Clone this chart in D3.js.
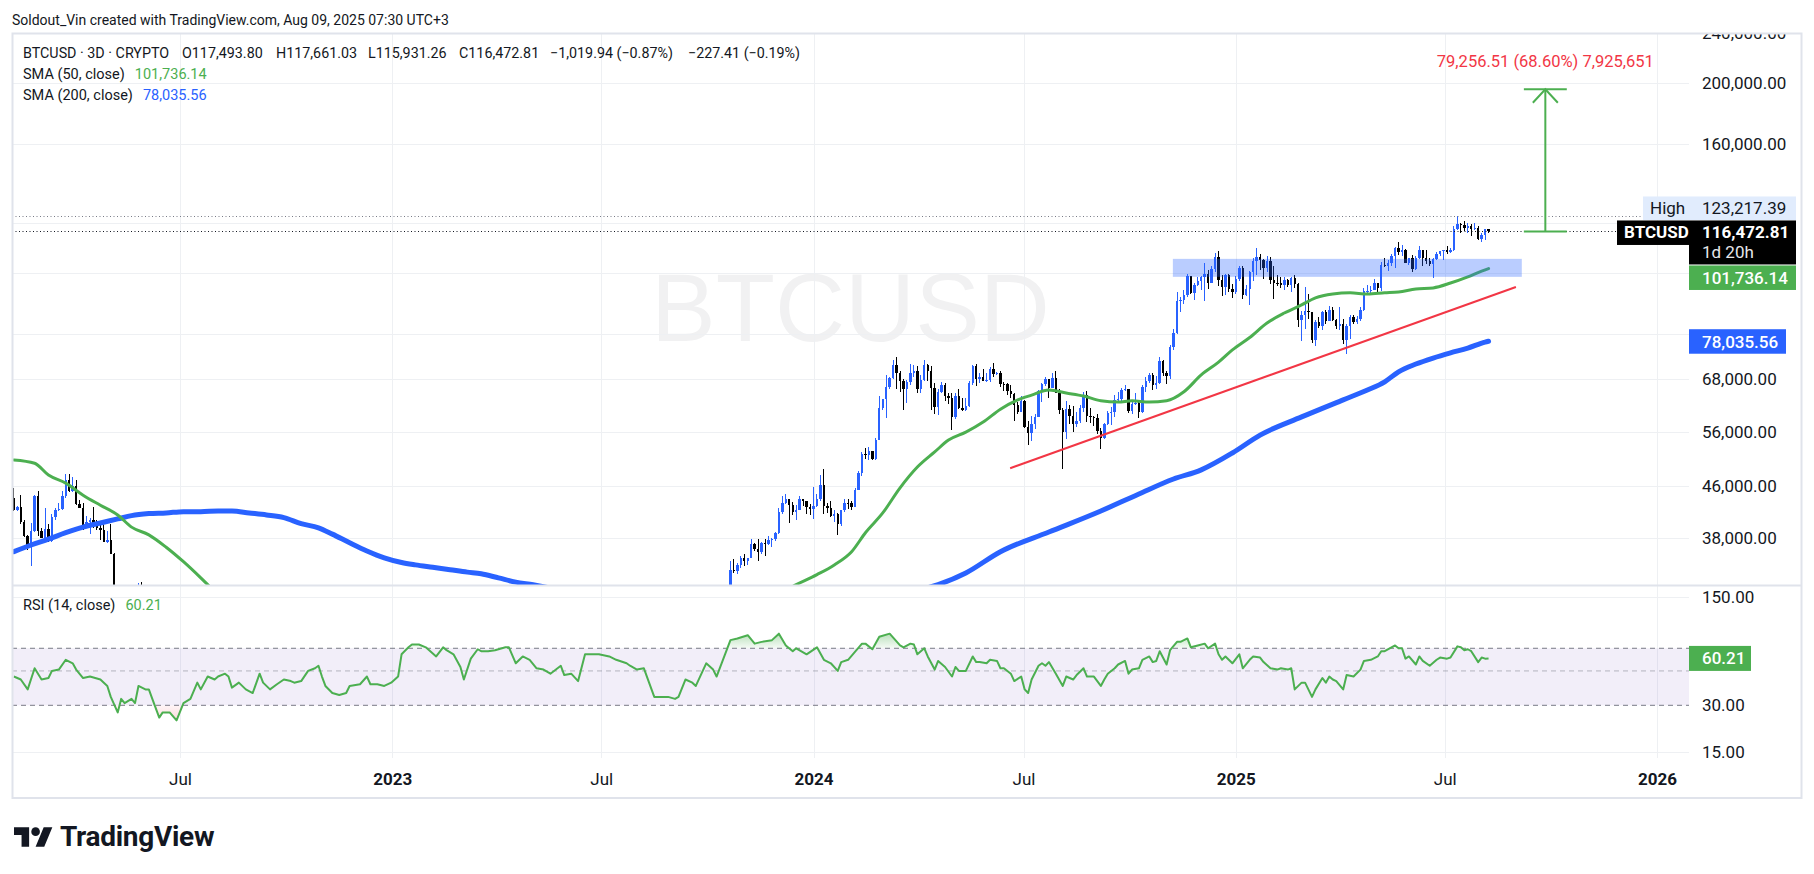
<!DOCTYPE html>
<html>
<head>
<meta charset="utf-8">
<title>BTCUSD 3D</title>
<script src="https://cdn.jsdelivr.net/npm/d3@7"></script>
<style>
  body { margin: 0; background: #ffffff; }
  text { font-family: Roboto, "Noto Sans", sans-serif; }
</style>
</head>
<body>
<div id="chart"></div>
<script>
// one candle every 3 days, bar 0 opens 2022-02-07. prices are in thousands of USD
var firstBar = Date.UTC(2022, 1, 7);
var DAY = 864e5;

// bars 0..41 (Feb - Jun 2022). crypto trades 24/7 so each open is the previous close
var earlyOpen = 44.0;
var earlyHigh = [45.6, 42.8, 44.5, 40.6, 38.5, 40.2, 44.5, 45.2, 39.5, 42.4,
                 40.1, 41.5, 42.4, 43.2, 45.1, 48.1, 48.0, 47.5, 47.0, 43.7,
                 43.2, 41.3, 40.9, 42.6, 40.6, 40.1, 40.0, 39.1, 40.0, 36.0,
                 31.3, 30.7, 30.8, 30.7, 30.2, 29.9, 32.3, 32.4, 31.7, 31.5, 30.1, 23.0];
var earlyLow = [42.0, 42.0, 40.0, 38.2, 36.4, 34.3, 38.9, 38.3, 38.0, 38.0,
                37.5, 37.5, 40.6, 42.0, 42.2, 44.1, 45.0, 45.0, 43.0, 42.4,
                39.2, 39.7, 38.6, 39.5, 39.2, 37.8, 37.5, 37.4, 35.9, 29.5,
                26.7, 28.7, 28.7, 28.9, 28.0, 28.3, 29.3, 29.3, 29.2, 29.9, 22.3, 20.1];
var earlyClose = [42.2, 42.6, 40.4, 38.3, 37.0, 39.0, 44.3, 39.0, 38.1, 39.3,
                  37.6, 41.1, 42.2, 42.3, 44.3, 47.0, 45.2, 46.0, 43.1, 42.5,
                  39.8, 40.4, 40.6, 40.1, 39.5, 39.2, 37.5, 37.8, 35.9, 30.0,
                  29.3, 30.4, 29.2, 29.5, 29.1, 29.4, 31.7, 29.8, 31.4, 30.1, 22.5, 20.4];

// bars 207 (2023-10-21) .. 426 (2025-08-08, live bar)
var mainStart = 207;
var mainOpen = 29.9;
var mainHigh = [
  35.0, 35.2, 34.7, 35.6, 35.9, 35.4, 37.9, 37.4, 37.9, 37.5,
  37.9, 38.4, 38.0, 38.9, 42.4, 44.4, 44.7, 43.8, 43.4, 43.0,
  44.4, 43.9, 43.6, 43.1, 45.9, 44.7, 47.9, 49.0, 43.3, 43.6,
  42.2, 41.7, 42.2, 43.9, 43.8, 43.5, 45.6, 48.6, 52.0, 52.8,
  53.0, 52.3, 54.9, 64.0, 63.2, 69.0, 68.6, 72.9, 73.8, 70.0,
  68.1, 67.7, 71.7, 71.5, 71.4, 68.9, 72.8, 71.8, 71.3, 66.9,
  65.5, 67.2, 67.1, 64.7, 64.7, 64.5, 65.5, 63.5, 63.5, 67.5,
  71.5, 71.9, 69.5, 70.6, 69.5, 71.0, 72.0, 69.8, 70.0, 67.2,
  67.0, 66.5, 64.5, 62.4, 63.8, 63.0, 58.4, 59.5, 59.8, 65.4,
  67.0, 68.5, 68.0, 69.4, 70.0, 65.6, 61.1, 62.7, 61.8, 61.6,
  60.3, 61.8, 64.9, 65.0, 61.2, 59.4, 59.8, 56.9, 58.0, 60.6,
  61.3, 64.1, 64.8, 65.8, 66.5, 65.6, 62.4, 64.5, 63.0, 66.5,
  68.4, 69.4, 69.5, 68.8, 73.6, 72.9, 69.9, 77.0, 81.5, 93.4,
  91.8, 94.0, 99.6, 98.9, 96.6, 98.7, 98.9, 104.0, 101.2, 102.5,
  107.8, 108.3, 99.5, 99.9, 99.9, 96.3, 98.9, 102.5, 102.7, 95.8,
  100.7, 105.9, 109.6, 107.2, 105.3, 106.5, 106.0, 102.5, 99.2, 98.5,
  98.8, 97.9, 98.8, 99.5, 96.5, 87.0, 95.0, 92.8, 86.9, 84.4,
  85.3, 87.0, 87.4, 88.8, 88.3, 84.6, 88.5, 84.7, 83.0, 85.9,
  86.0, 85.5, 88.5, 94.7, 95.8, 95.6, 97.9, 96.6, 104.1, 105.8,
  105.0, 107.1, 110.0, 112.0, 110.7, 109.3, 105.9, 106.8, 106.5, 110.5,
  108.8, 108.9, 105.6, 105.6, 108.0, 108.5, 109.0, 110.6, 109.7, 118.9,
  123.2, 120.0, 120.9, 120.2, 119.5, 120.0, 119.0, 115.7, 117.6, 117.661];
var mainLow = [
  29.7, 33.5, 33.4, 34.1, 34.3, 34.5, 35.4, 36.3, 35.0, 35.9,
  35.7, 37.1, 36.8, 37.6, 38.6, 41.5, 43.1, 40.2, 41.4, 40.6,
  42.2, 42.8, 41.6, 41.4, 40.8, 42.6, 43.6, 41.5, 41.7, 41.1,
  40.3, 38.5, 39.8, 41.8, 42.3, 42.2, 42.6, 45.3, 47.7, 50.7,
  50.6, 50.6, 50.5, 54.4, 60.8, 59.0, 65.6, 68.1, 65.6, 64.8,
  60.8, 62.3, 66.6, 68.5, 64.5, 64.5, 67.4, 67.5, 60.8, 59.8,
  59.6, 64.5, 62.8, 62.0, 56.5, 58.8, 61.0, 60.6, 60.6, 61.3,
  66.6, 66.3, 67.0, 67.5, 67.2, 67.3, 68.5, 68.9, 66.1, 65.1,
  64.1, 63.4, 58.4, 59.9, 60.2, 56.8, 53.5, 54.3, 56.6, 59.2,
  62.4, 66.2, 63.5, 65.7, 64.5, 59.8, 49.0, 54.7, 57.6, 56.1,
  57.1, 57.8, 60.3, 58.1, 57.9, 57.2, 55.6, 52.6, 54.6, 57.5,
  57.5, 59.2, 62.4, 62.7, 65.0, 60.1, 59.9, 61.9, 58.9, 60.1,
  64.8, 67.1, 65.3, 65.5, 66.8, 68.8, 66.8, 68.0, 75.7, 80.2,
  86.7, 89.3, 91.8, 92.6, 90.8, 95.4, 94.2, 90.5, 94.3, 96.6,
  100.6, 95.6, 92.2, 92.4, 93.4, 91.3, 92.8, 97.3, 91.2, 92.2,
  89.2, 97.3, 99.5, 101.2, 97.8, 100.3, 96.0, 91.2, 95.6, 94.7,
  94.1, 95.2, 93.4, 94.9, 82.3, 78.2, 81.5, 84.7, 77.5, 76.6,
  82.0, 81.2, 83.2, 83.9, 83.9, 81.6, 81.3, 77.2, 74.4, 78.6,
  83.0, 83.1, 84.0, 87.0, 92.9, 92.9, 94.0, 93.4, 93.7, 102.3,
  101.0, 102.6, 102.1, 106.8, 106.6, 103.7, 103.1, 100.4, 101.1, 105.3,
  102.7, 103.4, 102.8, 98.2, 105.0, 106.6, 105.1, 107.2, 107.5, 108.4,
  117.0, 115.7, 116.5, 116.0, 114.7, 117.2, 112.7, 111.9, 112.7, 115.931];
var mainClose = [
  33.9, 33.8, 34.5, 35.4, 35.0, 35.4, 37.3, 36.5, 36.2, 37.4,
  37.3, 37.8, 37.9, 38.7, 41.9, 43.3, 43.8, 42.9, 41.9, 42.2,
  43.9, 43.6, 42.6, 42.3, 42.8, 43.9, 46.1, 42.8, 42.5, 41.3,
  41.6, 40.1, 42.1, 43.3, 43.2, 42.6, 45.3, 48.3, 51.8, 51.6,
  52.3, 50.7, 54.5, 61.2, 63.1, 66.1, 68.3, 71.5, 69.4, 67.6,
  65.5, 67.2, 69.5, 69.9, 65.5, 67.8, 71.6, 70.0, 65.7, 61.3,
  64.9, 66.4, 63.8, 63.4, 59.1, 64.0, 61.2, 60.8, 61.6, 67.0,
  71.4, 67.9, 68.5, 67.6, 67.8, 70.6, 69.3, 69.6, 66.8, 66.7,
  65.0, 64.3, 61.8, 60.3, 62.7, 57.0, 55.9, 57.7, 59.2, 65.0,
  66.7, 68.0, 65.8, 68.3, 64.6, 60.7, 56.0, 60.9, 59.4, 57.6,
  58.4, 61.2, 64.2, 59.4, 59.1, 59.0, 56.2, 54.8, 57.6, 60.0,
  60.3, 62.9, 63.3, 65.2, 65.6, 60.6, 62.1, 62.2, 60.3, 66.0,
  67.4, 69.0, 66.6, 67.0, 72.7, 69.5, 68.8, 76.5, 80.4, 90.4,
  90.6, 92.3, 98.9, 93.0, 95.7, 97.3, 98.8, 99.9, 96.6, 101.4,
  106.1, 97.5, 95.1, 99.4, 94.3, 93.4, 98.1, 102.1, 92.5, 94.5,
  100.5, 104.4, 106.1, 104.8, 102.1, 104.7, 97.7, 96.6, 96.5, 95.8,
  97.5, 95.7, 98.3, 96.1, 84.3, 86.0, 87.2, 86.7, 78.5, 83.7,
  82.6, 86.9, 84.0, 87.5, 84.4, 82.5, 83.1, 78.4, 82.6, 85.3,
  83.7, 84.5, 87.5, 93.7, 93.8, 94.2, 96.5, 94.8, 103.0, 102.8,
  103.7, 106.4, 109.7, 107.9, 108.9, 104.0, 105.8, 101.6, 105.7, 108.7,
  105.6, 104.6, 103.3, 105.4, 107.1, 108.4, 108.9, 108.2, 108.9, 117.5,
  119.8, 119.3, 117.9, 118.7, 117.6, 117.9, 113.3, 115.0, 117.4938, 116.47281];

// moving averages: [bar, value]
var sma50 = [[0,50.6],[6,50.0],[10,47.9],[15,46.5],[20,44.5],[25,42.9],[30,41.4],[34,39.6],
  [39,38.5],[44,36.8],[49,34.9],[54,32.9],[56,32.1],[60,30.5],[75,24.5],[95,20.5],[115,19.0],
  [130,20.5],[145,24.5],[160,27.5],[175,28.8],[190,28.5],[205,28.5],[215,29.8],[226,32.1],
  [232,33.3],[237,34.5],[242,36.2],[246,38.8],[251,41.7],[256,45.7],[261,49.3],[266,52.1],
  [270,54.4],[275,56.0],[280,58.1],[285,60.9],[290,63.0],[294,64.1],[299,65.3],[304,64.6],
  [309,63.9],[314,62.8],[319,62.5],[323,62.8],[328,62.5],[333,62.8],[338,64.9],[343,69.0],
  [348,72.3],[352,75.6],[357,79.1],[362,83.4],[367,86.5],[372,89.1],[376,91.4],[381,92.7],
  [386,93.1],[391,92.7],[396,93.1],[400,93.4],[405,94.4],[410,94.8],[415,96.5],[420,98.7],
  [424,100.8],[426,101.73614]];
var sma200 = [[0,36.2],[5,37.1],[10,37.9],[15,38.8],[20,39.6],[25,40.2],[30,40.8],[34,41.3],
  [39,41.6],[44,41.7],[49,41.9],[54,41.9],[59,42.0],[63,42.0],[68,41.7],[73,41.4],[78,41.0],
  [83,40.1],[88,39.5],[92,38.6],[97,37.4],[102,36.3],[107,35.4],[112,34.8],[116,34.5],
  [121,34.2],[126,33.9],[131,33.6],[135,33.4],[140,32.9],[145,32.4],[150,32.1],[165,30.8],
  [185,29.6],[205,29.0],[230,29.6],[255,31.0],[267,32.1],[275,33.5],[285,36.2],[299,38.9],
  [314,42.0],[325,44.7],[335,47.2],[343,48.8],[352,51.9],[360,55.4],[372,59.2],[384,63.0],
  [391,65.3],[396,67.3],[400,69.8],[405,71.8],[410,73.4],[415,74.8],[420,76.1],[425,77.8],
  [426,78.03556]];

// RSI(14): [bar, value]
var rsi = [[0,46],[2,44],[4,38],[6,52],[8,44],[10,45],[11,50],[13,51],[15,59],[17,56],[18,51],
  [20,45],[22,46],[25,44],[27,40],[28,34],[30,27],[31,33],[32,31],[34,33],[35,31],[36,40],
  [38,38],[39,38],[40,33],[42,25],[43,27],[45,27],[47,24],[49,31],[51,33],[53,42],[54,38],
  [56,46],[58,44],[59,46],[61,48],[62,46],[63,39],[65,42],[67,38],[69,36],[71,48],[72,42],
  [74,38],[76,41],[78,44],[80,43],[81,42],[83,43],[85,50],[87,52],[88,54],[89,46],[90,40],
  [92,36],[94,35],[96,36],[97,40],[100,41],[102,46],[103,41],[105,41],[107,40],[109,42],
  [111,46],[112,64],[114,71],[115,74],[117,74],[119,71],[122,62],[124,71],[125,68],[127,64],
  [129,53],[130,44],[132,60],[134,69],[135,67],[137,67],[139,68],[142,71],[143,71],[145,56],
  [147,62],[149,59],[151,52],[153,51],[155,48],[158,54],[159,47],[161,48],[163,43],[165,64],
  [167,64],[169,64],[172,62],[174,59],[177,56],[178,54],[180,51],[182,52],[185,34],[187,34],
  [189,34],[191,33],[192,34],[194,44],[196,42],[197,40],[200,56],[202,51],[203,46],[207,79],
  [209,81],[212,85],[214,75],[216,77],[219,79],[221,87],[223,73],[225,67],[226,70],[229,64],
  [232,71],[234,59],[236,56],[238,50],[239,57],[241,59],[245,75],[246,75],[248,69],[250,83],
  [253,87],[256,73],[257,71],[259,75],[260,74],[261,64],[263,70],[264,62],[266,51],[267,58],
  [269,53],[271,46],[272,53],[273,50],[275,50],[277,62],[278,57],[279,57],[281,56],[282,59],
  [284,58],[285,52],[286,52],[288,48],[289,43],[291,46],[292,38],[293,36],[294,44],[296,54],
  [297,56],[298,54],[299,57],[301,48],[303,40],[304,46],[306,44],[307,47],[309,52],[310,46],
  [312,46],[314,40],[315,44],[316,48],[318,52],[319,55],[321,58],[322,48],[323,51],[325,52],
  [326,59],[328,62],[329,57],[330,58],[331,67],[333,55],[334,68],[336,77],[337,77],[339,81],
  [340,71],[342,73],[344,75],[345,70],[347,75],[348,64],[349,59],[350,62],[352,56],[354,64],
  [355,52],[357,59],[358,62],[360,61],[361,57],[363,52],[365,51],[366,52],[368,51],[369,52],
  [370,38],[372,42],[373,42],[375,34],[376,38],[378,45],[379,42],[380,46],[381,44],[382,43],
  [384,38],[385,47],[387,46],[389,51],[390,58],[392,59],[394,62],[395,67],[396,67],[399,73],
  [400,70],[401,70],[402,60],[403,62],[405,55],[406,62],[407,58],[409,54],[411,59],[412,61],
  [414,60],[415,61],[417,72],[418,71],[419,68],[420,69],[421,67],[423,57],[424,61],[425,60],
  [426,60.21]];

// drawings
var zoneBars = [334.8, 435.6], zonePrices = [98.7, 105.4];
var trendBars = [287.8, 433.9], trendPrices = [49.1, 95.1];
var arrowBar = 442.4, arrowCaps = [436.2, 448.6], arrowPrices = [116.47281, 195.72932];
var highPrice = 123.21739, lastPrice = 116.47281;

var priceTicks = [240, 200, 160, 120, 100, 80, 68, 56, 46, 38];
var rsiTicks = [150, 70, 30, 15];
var timeTicks = ["2022-07-01", "2023-01-01", "2023-07-01", "2024-01-01",
                 "2024-07-01", "2025-01-01", "2025-07-01", "2026-01-01"];

var W = 1814, H = 874;
var L = 12, R = 1689, PT = 33, PB = 585, RT = 587, RB = 758;
var UP = "#2962ff", DOWN = "#000000", GREEN = "#4caf50", RED = "#f23645", INK = "#131722";

var svg = d3.select("#chart").append("svg").attr("width", W).attr("height", H);
var defs = svg.append("defs");
defs.append("clipPath").attr("id", "cp").append("rect").attr("x", L).attr("y", PT).attr("width", R - L).attr("height", PB - PT);
defs.append("clipPath").attr("id", "cr").append("rect").attr("x", L).attr("y", RT).attr("width", R - L).attr("height", RB - RT);
defs.append("clipPath").attr("id", "cax").append("rect").attr("x", 0).attr("y", PT + 1).attr("width", 120).attr("height", PB - PT - 1);

var x = d3.scaleUtc()
  .domain([new Date(Date.UTC(2022, 6, 1) - 145.6 * DAY), new Date(Date.UTC(2026, 0, 1) + 27.7 * DAY)])
  .range([L, R]);
function bx(i) { return x(new Date(firstBar + i * 3 * DAY)); }
var y = d3.scaleLog().domain([32.06, 240.3]).range([PB, PT]);
var ry = d3.scaleLog().domain([13.71, 174.0]).range([RB, RT]);

function buildBars(start, open0, highs, lows, closes) {
  var out = [], prev = open0;
  closes.forEach(function(c, i) {
    out.push({bar: start + i, o: prev, h: highs[i], l: lows[i], c: c});
    prev = c;
  });
  return out;
}
var bars = buildBars(0, earlyOpen, earlyHigh, earlyLow, earlyClose)
  .concat(buildBars(mainStart, mainOpen, mainHigh, mainLow, mainClose));

// watermark
svg.append("text").attr("x", (L + R) / 2).attr("y", 341).attr("text-anchor", "middle")
  .style("font-family", "'Liberation Sans', Arial, sans-serif").style("font-size", "97px")
  .attr("fill", "rgba(19,23,34,0.06)").text("BTCUSD");

// grid
var grid = svg.append("g").attr("stroke", "#eef0f3").attr("stroke-width", 1);
priceTicks.forEach(function(t) {
  grid.append("line").attr("x1", L).attr("x2", R).attr("y1", Math.round(y(t)) + 0.5).attr("y2", Math.round(y(t)) + 0.5);
});
[150, 15].forEach(function(t) {
  grid.append("line").attr("x1", L).attr("x2", R).attr("y1", Math.round(ry(t)) + 0.5).attr("y2", Math.round(ry(t)) + 0.5);
});
timeTicks.forEach(function(t) {
  var xx = Math.round(x(new Date(t))) + 0.5;
  grid.append("line").attr("x1", xx).attr("x2", xx).attr("y1", PT).attr("y2", RB);
});

// rsi band
var rg = svg.append("g").attr("clip-path", "url(#cr)");
rg.append("rect").attr("x", L).attr("width", R - L).attr("y", ry(70)).attr("height", ry(30) - ry(70))
  .attr("fill", "rgba(126,87,194,0.1)");
[[70, "#787b86"], [50, "rgba(120,123,134,0.5)"], [30, "#787b86"]].forEach(function(d) {
  rg.append("line").attr("x1", L).attr("x2", R).attr("y1", ry(d[0])).attr("y2", ry(d[0]))
    .attr("stroke", d[1]).attr("stroke-dasharray", "5,4").attr("stroke-width", 1);
});
var ob = defs.append("linearGradient").attr("id", "gob").attr("gradientUnits", "userSpaceOnUse")
  .attr("x1", 0).attr("x2", 0).attr("y1", ry(100)).attr("y2", ry(70));
ob.append("stop").attr("offset", 0).attr("stop-color", "rgba(76,175,80,0.6)");
ob.append("stop").attr("offset", 1).attr("stop-color", "rgba(76,175,80,0.05)");
var os = defs.append("linearGradient").attr("id", "gos").attr("gradientUnits", "userSpaceOnUse")
  .attr("x1", 0).attr("x2", 0).attr("y1", ry(30)).attr("y2", ry(14));
os.append("stop").attr("offset", 0).attr("stop-color", "rgba(242,54,69,0.05)");
os.append("stop").attr("offset", 1).attr("stop-color", "rgba(242,54,69,0.5)");
defs.append("clipPath").attr("id", "cob").append("rect").attr("x", L).attr("y", RT).attr("width", R - L).attr("height", ry(70) - RT);
defs.append("clipPath").attr("id", "cos").append("rect").attr("x", L).attr("y", ry(30)).attr("width", R - L).attr("height", RB - ry(30));
rg.append("path").datum(rsi).attr("clip-path", "url(#cob)").attr("fill", "url(#gob)")
  .attr("d", d3.area().x(function(d) { return bx(d[0]); }).y0(ry(70)).y1(function(d) { return ry(d[1]); }));
rg.append("path").datum(rsi).attr("clip-path", "url(#cos)").attr("fill", "url(#gos)")
  .attr("d", d3.area().x(function(d) { return bx(d[0]); }).y0(ry(30)).y1(function(d) { return ry(d[1]); }));
rg.append("path").datum(rsi).attr("fill", "none").attr("stroke", GREEN).attr("stroke-width", 2)
  .attr("stroke-linejoin", "round")
  .attr("d", d3.line().x(function(d) { return bx(d[0]); }).y(function(d) { return ry(d[1]); }));

// price pane
var pg = svg.append("g").attr("clip-path", "url(#cp)");
var bodyW = 2.4;
var cg = pg.append("g").attr("shape-rendering", "crispEdges");
cg.selectAll("line").data(bars).enter().append("line")
  .attr("x1", function(d) { return bx(d.bar); }).attr("x2", function(d) { return bx(d.bar); })
  .attr("y1", function(d) { return y(d.h); }).attr("y2", function(d) { return y(d.l); })
  .attr("stroke", function(d) { return d.c >= d.o ? UP : DOWN; }).attr("stroke-width", 1);
cg.selectAll("rect").data(bars).enter().append("rect")
  .attr("x", function(d) { return bx(d.bar) - bodyW / 2; }).attr("width", bodyW)
  .attr("y", function(d) { return y(Math.max(d.o, d.c)); })
  .attr("height", function(d) { return Math.max(1, Math.abs(y(d.o) - y(d.c))); })
  .attr("fill", function(d) { return d.c >= d.o ? UP : DOWN; });

var smaLine = d3.line().curve(d3.curveMonotoneX)
  .x(function(d) { return bx(d[0]); }).y(function(d) { return y(d[1]); });
pg.append("path").datum(sma200).attr("fill", "none").attr("stroke", UP).attr("stroke-width", 5)
  .attr("stroke-linecap", "round").attr("d", smaLine);
pg.append("path").datum(sma50).attr("fill", "none").attr("stroke", GREEN).attr("stroke-width", 3)
  .attr("stroke-linecap", "round").attr("d", smaLine);

// drawings
pg.append("rect").attr("x", bx(zoneBars[0])).attr("width", bx(zoneBars[1]) - bx(zoneBars[0]))
  .attr("y", y(zonePrices[1])).attr("height", y(zonePrices[0]) - y(zonePrices[1]))
  .attr("fill", "rgba(41,98,255,0.32)");
pg.append("line").attr("x1", bx(trendBars[0])).attr("y1", y(trendPrices[0]))
  .attr("x2", bx(trendBars[1])).attr("y2", y(trendPrices[1]))
  .attr("stroke", RED).attr("stroke-width", 2);

pg.append("line").attr("x1", L).attr("x2", R).attr("y1", Math.round(y(highPrice)) + 0.5).attr("y2", Math.round(y(highPrice)) + 0.5)
  .attr("stroke", "#787b86").attr("stroke-dasharray", "1,2.5");
pg.append("line").attr("x1", L).attr("x2", R).attr("y1", Math.round(y(lastPrice)) + 0.5).attr("y2", Math.round(y(lastPrice)) + 0.5)
  .attr("stroke", "#131722").attr("stroke-dasharray", "1,2.5");

var ag = pg.append("g").attr("stroke", GREEN).attr("stroke-width", 2).attr("fill", "none");
var ax0 = bx(arrowBar), ay0 = y(arrowPrices[0]), ay1 = y(arrowPrices[1]);
ag.append("line").attr("x1", ax0).attr("x2", ax0).attr("y1", ay0).attr("y2", ay1);
[ay0, ay1].forEach(function(yy) {
  ag.append("line").attr("x1", bx(arrowCaps[0])).attr("x2", bx(arrowCaps[1])).attr("y1", yy).attr("y2", yy);
});
ag.append("path").attr("d", "M" + (ax0 - 12.5) + "," + (ay1 + 13.5) + "L" + ax0 + "," + ay1 + "L" + (ax0 + 12.5) + "," + (ay1 + 13.5));
svg.append("text").attr("x", ax0).attr("y", 61).attr("dy", "0.35em").attr("text-anchor", "middle")
  .attr("fill", RED).style("font-size", "16.5px").text("79,256.51 (68.60%) 7,925,651");

// header and legends
svg.append("text").attr("x", 12).attr("y", 20).attr("dy", "0.35em").attr("fill", INK)
  .style("font-size", "14px").text("Soldout_Vin created with TradingView.com, Aug 09, 2025 07:30 UTC+3");

function legendAt(yy, parts) {
  parts.forEach(function(p) {
    svg.append("text").attr("x", p[0]).attr("y", yy).attr("dy", "0.35em").attr("fill", p[2] || INK)
      .style("font-size", "14.3px").text(p[1]);
  });
}
function legendFlow(yy, label, value, color) {
  var t = svg.append("text").attr("x", 23).attr("y", yy).attr("dy", "0.35em").attr("fill", INK)
    .style("font-size", "14.5px").text(label);
  var w = t.node().getComputedTextLength();
  svg.append("text").attr("x", 23 + w + 10).attr("y", yy).attr("dy", "0.35em").attr("fill", color)
    .style("font-size", "14.5px").text(value);
}
legendAt(53, [[23, "BTCUSD · 3D · CRYPTO"], [182, "O117,493.80"], [276, "H117,661.03"], [368, "L115,931.26"],
  [459, "C116,472.81"], [550, "−1,019.94 (−0.87%)"], [688, "−227.41 (−0.19%)"]]);
legendFlow(74, "SMA (50, close)", "101,736.14", GREEN);
legendFlow(95, "SMA (200, close)", "78,035.56", UP);
legendFlow(605, "RSI (14, close)", "60.21", GREEN);

// label boxes on the price and rsi scales
var fmt = d3.format(",.2f");
var lastY = y(lastPrice);
var curTop = lastY - 11, curBot = curTop + 44;
var s50 = sma50[sma50.length - 1][1], s200 = sma200[sma200.length - 1][1];
var rLast = rsi[rsi.length - 1][1];
var g50top = Math.max(y(s50) - 12, curBot + 1);
var g200top = y(s200) - 12;
var grTop = ry(rLast) - 12.5;
var priceBoxes = [[curTop - 24, curTop], [curTop, curBot], [g50top, g50top + 24.5], [g200top, g200top + 24.5]];
var rsiBoxes = [[grTop, grTop + 25]];
function free(boxes, yy) {
  return boxes.every(function(b) { return yy + 8 < b[0] || yy - 8 > b[1]; });
}

// axes
var yAxis = svg.append("g").attr("transform", "translate(" + R + ",0)").attr("clip-path", "url(#cax)")
  .call(d3.axisRight(y).tickValues(priceTicks.filter(function(t) { return free(priceBoxes, y(t)); }))
    .tickSize(0).tickPadding(13).tickFormat(function(v) { return fmt(v * 1000); }));
var rAxis = svg.append("g").attr("transform", "translate(" + R + ",0)")
  .call(d3.axisRight(ry).tickValues(rsiTicks.filter(function(t) { return free(rsiBoxes, ry(t)); }))
    .tickSize(0).tickPadding(13).tickFormat(fmt));
var tAxis = svg.append("g").attr("transform", "translate(0,779)")
  .call(d3.axisBottom(x).tickValues(timeTicks.map(function(t) { return new Date(t); })).tickSize(0)
    .tickFormat(function(d) { return d.getUTCMonth() === 0 ? d.getUTCFullYear() : "Jul"; }));
[yAxis, rAxis, tAxis].forEach(function(g) {
  g.select(".domain").remove();
  g.selectAll("text").attr("fill", INK).style("font-size", "17px").style("font-family", "Roboto, sans-serif");
});
tAxis.selectAll("text").attr("y", 0).attr("dy", "0.35em")
  .style("font-weight", function(d) { return d.getUTCMonth() === 0 ? "bold" : "normal"; });

function box(yTop, h, fill, x0, x1) {
  var g = svg.append("g");
  g.append("rect").attr("x", x0).attr("y", yTop).attr("width", x1 - x0).attr("height", h).attr("fill", fill);
  return g;
}
function boxText(g, xx, yy, txt, color, weight) {
  g.append("text").attr("x", xx).attr("y", yy).attr("dy", "0.35em").attr("fill", color)
    .style("font-size", "17px").style("font-weight", weight || "normal").text(txt);
}
var hg = box(curTop - 24, 23.5, "#e1ecfd", 1643, R);
boxText(hg, 1650, curTop - 12, "High", INK);
var hv = box(curTop - 24, 23.5, "#e1ecfd", R, 1796);
boxText(hv, 1702, curTop - 12, fmt(highPrice * 1000), INK);
var sg = box(curTop, 24.5, "#000000", 1617, R);
boxText(sg, 1624, curTop + 12, "BTCUSD", "#ffffff", "bold");
var cbox = box(curTop, 44, "#000000", R, 1796);
boxText(cbox, 1702, curTop + 12, fmt(lastPrice * 1000), "#ffffff", "bold");
boxText(cbox, 1702, curTop + 32, "1d 20h", "#e6e7ea");
var g50 = box(g50top, 24.5, GREEN, R, 1796);
boxText(g50, 1702, g50top + 12.5, fmt(s50 * 1000), "#ffffff", "500");
var g200 = box(g200top, 24.5, UP, R, 1786);
boxText(g200, 1702, g200top + 12.5, fmt(s200 * 1000), "#ffffff", "500");
var grl = box(grTop, 25, GREEN, R, 1751);
boxText(grl, 1702, grTop + 12.5, fmt(rLast), "#ffffff", "500");

// frame
svg.append("rect").attr("x", 12.5).attr("y", 33.5).attr("width", 1789).attr("height", 764.5)
  .attr("fill", "none").attr("stroke", "#e0e3eb").attr("stroke-width", 2);
svg.append("line").attr("x1", 12).attr("x2", 1802).attr("y1", 585.5).attr("y2", 585.5)
  .attr("stroke", "#e0e3eb").attr("stroke-width", 2);

// TradingView logo
var logo = svg.append("g").attr("transform", "translate(14,823) scale(1.08)").attr("fill", INK);
logo.append("path").attr("d", "M14 22H7V11H0V4h14v18zM28 22h-8l7.5-18h8L28 22z");
logo.append("circle").attr("cx", 20).attr("cy", 8).attr("r", 4);
svg.append("text").attr("x", 60).attr("y", 846).attr("fill", INK).style("font-size", "28px")
  .style("font-weight", "bold").style("letter-spacing", "-0.3px").text("TradingView");
</script>
</body>
</html>
